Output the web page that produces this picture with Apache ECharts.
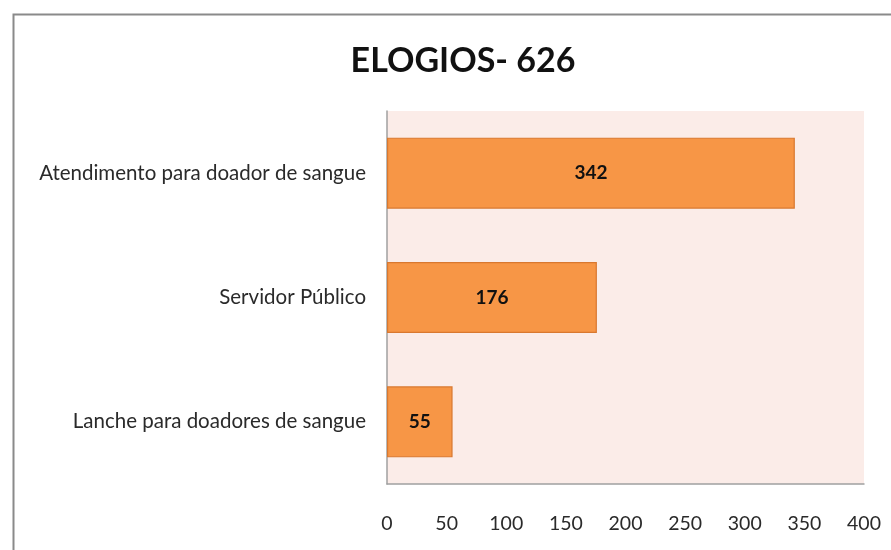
<!DOCTYPE html>
<html>
<head>
<meta charset="utf-8">
<script src="https://cdn.jsdelivr.net/npm/echarts@6/dist/echarts.min.js"></script>
<style>
  html, body { margin: 0; padding: 0; background: #fff; }
  #chart { width: 891px; height: 550px; }
</style>
</head>
<body>
<div id="chart"></div>
<script>
const titleText = 'ELOGIOS- 626';
const categories = [
  'Lanche para doadores de sangue',
  'Servidor Público',
  'Atendimento para doador de sangue',
];
const values = [55, 176, 342];
const axisMin = 0;
const axisMax = 400;
const axisStep = 50;

const chartDom = document.getElementById('chart');
const myChart = echarts.init(chartDom, null, { renderer: 'canvas' });
const font = 'Lato, "Open Sans", sans-serif';

const option = {
  animation: false,
  title: {
    text: titleText,
    left: 458,
    top: 39,
    textAlign: 'center',
    textStyle: { fontFamily: font, fontSize: 34, fontWeight: 'bold', color: '#111' },
  },
  graphic: [
    {
      type: 'rect',
      left: 11,
      top: 12,
      shape: { width: 900, height: 560 },
      style: { fill: 'none', stroke: '#8a8a8a', lineWidth: 2 },
      z: -1,
    },
  ],
  grid: {
    left: 387,
    top: 111,
    right: 27,
    bottom: 66,
    show: true,
    backgroundColor: '#fbece8',
    borderWidth: 0,
  },
  xAxis: {
    type: 'value',
    min: axisMin,
    max: axisMax,
    interval: axisStep,
    splitLine: { show: false },
    axisLine: { show: true, lineStyle: { color: '#a0a0a0', width: 1.5 } },
    axisTick: { show: false },
    axisLabel: {
      margin: 30,
      fontFamily: font,
      fontSize: 19.5,
      color: '#2a2a2a',
    },
  },
  yAxis: {
    type: 'category',
    data: categories,
    axisLine: { show: true, lineStyle: { color: '#a0a0a0', width: 1.5 } },
    axisTick: { show: false },
    axisLabel: {
      margin: 21,
      fontFamily: font,
      fontSize: 20.5,
      color: '#2a2a2a',
    },
  },
  series: [
    {
      type: 'bar',
      data: values,
      barWidth: 71,
      itemStyle: { color: '#f79646', borderColor: '#d9782f', borderWidth: 1.2 },
      label: {
        show: true,
        position: 'inside',
        fontFamily: font,
        fontSize: 19,
        fontWeight: 'bold',
        color: '#111',
      },
    },
  ],
};

myChart.setOption(option);
</script>
</body>
</html>
